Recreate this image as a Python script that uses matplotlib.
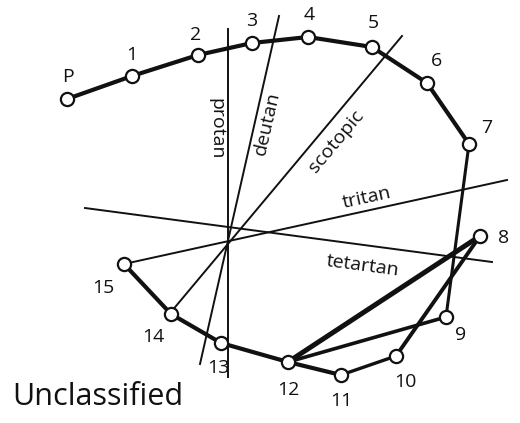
import math
import matplotlib.pyplot as plt

plt.rcParams['font.family'] = ['Open Sans', 'DejaVu Sans']

# cap positions (image pixel coords) in the order the subject arranged them
cap_names = ['P', '1', '2', '3', '4', '5', '6', '7', '9', '12', '8', '10', '11', '12', '13', '14', '15']
cap_x = {'P': 67, '1': 132, '2': 198, '3': 252, '4': 308, '5': 372, '6': 427, '7': 469,
         '8': 480, '9': 446, '10': 396, '11': 341, '12': 288, '13': 221, '14': 171, '15': 124}
cap_y = {'P': 99, '1': 76, '2': 55, '3': 43, '4': 37, '5': 47, '6': 83, '7': 144,
         '8': 236, '9': 317, '10': 356, '11': 375, '12': 362, '13': 343, '14': 314, '15': 264}
# where each cap number is written
label_xy = {'P': (68, 77), '1': (132, 55), '2': (196, 35), '3': (252, 21), '4': (309, 15),
            '5': (373, 23), '6': (436, 61), '7': (487, 128), '8': (504, 238), '9': (461, 335),
            '10': (405, 382), '11': (341, 401), '12': (288, 390), '13': (218, 368),
            '14': (153, 337), '15': (103, 288)}
# line width of each segment of the sequence
seg_widths = [3, 3, 3, 3, 3, 3, 3, 2.2, 2.6, 3.6, 2.8, 2.4, 3, 3, 3, 3]

# confusion axes: (x0, y0, x1, y1)
axis_names = ['protan', 'deutan', 'scotopic', 'tritan', 'tetartan']
axis_lines = [(228, 29, 228, 377), (279, 16, 200, 364), (402, 36, 171, 312),
              (124, 264, 507, 180), (85, 208, 492, 262)]
axis_label_xy = [(216, 129), (267, 123), (336, 141), (367, 198), (363, 266)]

fig = plt.figure(figsize=(5.2, 4.23), dpi=100)
ax = fig.add_axes([0, 0, 1, 1])
ax.set_xlim(0, 520)
ax.set_ylim(423, 0)
ax.axis('off')

# axis lines and their labels
for name, (x0, y0, x1, y1), (lx, ly) in zip(axis_names, axis_lines, axis_label_xy):
    ax.plot([x0, x1], [y0, y1], color='#111111', lw=1.4, zorder=1)
    ang = math.degrees(math.atan2(-(y1 - y0), x1 - x0))  # y axis is inverted
    if ang > 90:
        ang -= 180
    if ang < -90:
        ang += 180
    ax.text(lx, ly, name, rotation=ang, rotation_mode='anchor', ha='center', va='center',
            fontsize=14, color='#111111')

# cap sequence
xs = [cap_x[n] for n in cap_names]
ys = [cap_y[n] for n in cap_names]
for i in range(len(xs) - 1):
    ax.plot(xs[i:i + 2], ys[i:i + 2], color='#111111', lw=seg_widths[i],
            solid_capstyle='round', zorder=2)

ax.plot([cap_x[n] for n in cap_x], [cap_y[n] for n in cap_y], 'o', ms=9.5,
        mfc='white', mec='#111111', mew=1.6, zorder=3)

for n, (lx, ly) in label_xy.items():
    ax.text(lx, ly, n, ha='center', va='center', fontsize=14, color='#111111')

ax.text(12, 397, 'Unclassified', ha='left', va='center', fontsize=22, color='#111111')

fig.savefig('out.png', dpi=100)
